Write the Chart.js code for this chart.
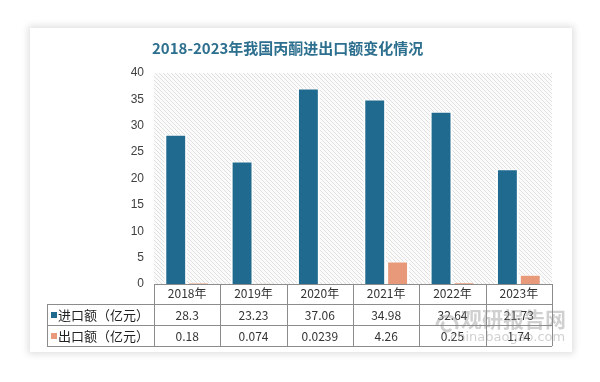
<!DOCTYPE html>
<html><head><meta charset="utf-8">
<script src="https://cdn.jsdelivr.net/npm/chart.js@4"></script>
<style>
html,body{margin:0;padding:0;background:#fff;width:600px;height:382px;overflow:hidden;}
#card{position:absolute;left:30px;top:28px;width:542px;height:324px;background:#fff;box-shadow:0 0 7px 2px rgba(0,0,0,0.13);}
canvas{display:block;}
</style></head>
<body>
<div id="card"><canvas id="c" width="542" height="324"></canvas></div>
<script>
const title = '2018-2023年我国丙酮进出口额变化情况';
const categories = ['2018年','2019年','2020年','2021年','2022年','2023年'];
const seriesNames = ['进口额（亿元）','出口额（亿元）'];
const importValues = [28.3, 23.23, 37.06, 34.98, 32.64, 21.73];
const exportValues = [0.18, 0.074, 0.0239, 4.26, 0.25, 1.74];
const importLabels = ['28.3','23.23','37.06','34.98','32.64','21.73'];
const exportLabels = ['0.18','0.074','0.0239','4.26','0.25','1.74'];
const colors = ['#1f6a8e','#e8997a'];

// hatch pattern
const pc = document.createElement('canvas');
pc.width = 4; pc.height = 4;
const pctx = pc.getContext('2d');
pctx.fillStyle = '#fbfbfb'; pctx.fillRect(0,0,4,4);
pctx.strokeStyle = '#e0e0e0'; pctx.lineWidth = 1;
pctx.beginPath();
pctx.moveTo(-1,-1); pctx.lineTo(5,5);
pctx.moveTo(-1,3); pctx.lineTo(1,5);
pctx.moveTo(3,-1); pctx.lineTo(5,1);
pctx.stroke();

const ctx0 = document.getElementById('c').getContext('2d');
const pattern = ctx0.createPattern(pc,'repeat');

const tablePlugin = {
  id:'tablePlugin',
  beforeDatasetsDraw(chart){
    const {ctx, chartArea:a} = chart;
    ctx.save();
    ctx.fillStyle = pattern;
    ctx.fillRect(a.left, a.top, a.right-a.left, a.bottom-a.top);
    ctx.restore();
  },
  afterDraw(chart){
    const {ctx, chartArea:a} = chart;
    const xs = chart.scales.x;
    const n = categories.length;
    const w = (a.right - a.left)/n;
    const yTop = a.bottom, y1 = a.bottom+20, y2 = a.bottom+41, y3 = a.bottom+62;
    const tl = 17;
    ctx.save();
    // title
    ctx.fillStyle = '#2d6f8e';
    ctx.font = 'bold 15px "Noto Sans CJK SC"';
    ctx.textBaseline = 'middle';
    ctx.textAlign = 'left';
    ctx.fillText(title, 122, 20);
    // lines
    ctx.strokeStyle = '#8c8c8c';
    ctx.lineWidth = 1;
    ctx.beginPath();
    ctx.moveTo(a.left, yTop+0.5); ctx.lineTo(a.right, yTop+0.5);
    ctx.moveTo(tl, y1+0.5); ctx.lineTo(a.right, y1+0.5);
    ctx.moveTo(tl, y2+0.5); ctx.lineTo(a.right, y2+0.5);
    ctx.moveTo(tl, y3+0.5); ctx.lineTo(a.right, y3+0.5);
    ctx.moveTo(tl+0.5, y1); ctx.lineTo(tl+0.5, y3);
    for(let i=0;i<=n;i++){
      const x = Math.round(a.left + i*w)+0.5;
      ctx.moveTo(x, yTop); ctx.lineTo(x, y3);
    }
    ctx.stroke();
    // legend cells
    ctx.font = '13px "Noto Sans CJK SC"';
    ctx.textAlign = 'left';
    const rows = [[y1,y2],[y2,y3]];
    for(let r=0;r<2;r++){
      const cy = (rows[r][0]+rows[r][1])/2 + 0.5;
      ctx.fillStyle = colors[r];
      ctx.fillRect(tl+4, cy-3, 6, 6);
      ctx.fillStyle = '#222';
      ctx.fillText(seriesNames[r], tl+11, cy);
    }
    // values
    ctx.font = '12px "Noto Sans CJK SC"';
    ctx.textAlign = 'center';
    ctx.fillStyle = '#333';
    for(let i=0;i<n;i++){
      const cx = xs.getPixelForValue(i);
      ctx.fillText(importLabels[i], cx, (y1+y2)/2+1);
      ctx.fillText(exportLabels[i], cx, (y2+y3)/2+1);
    }
    // watermark
    ctx.globalAlpha = 0.4;
    ctx.fillStyle = '#8a8a8a';
    ctx.font = 'bold 21px "Noto Sans CJK SC"';
    ctx.textAlign = 'left';
    ctx.fillText('观研报告网', 431, y1+15);
    ctx.font = '13px "DejaVu Sans"';
    ctx.fillText('chinabaogao.com', 420, y2+13);
    ctx.lineWidth = 3;
    ctx.strokeStyle = '#8a8a8a';
    ctx.beginPath();
    ctx.arc(417, y1+22, 10, Math.PI*1.0, Math.PI*2.1);
    ctx.stroke();
    ctx.beginPath();
    ctx.arc(417, y1+22, 5, Math.PI*0.2, Math.PI*1.3);
    ctx.stroke();
    ctx.restore();
  }
};

new Chart(ctx0, {
  type:'bar',
  data:{
    labels: categories,
    datasets:[
      {label: seriesNames[0], data: importValues, backgroundColor: colors[0], borderColor:'#ffffff', borderWidth:{left:2,right:2,top:1,bottom:0}, borderSkipped:'bottom', categoryPercentage:0.69, barPercentage:1.0},
      {label: seriesNames[1], data: exportValues, backgroundColor: colors[1], borderColor:'#ffffff', borderWidth:{left:2,right:2,top:1,bottom:0}, borderSkipped:'bottom', categoryPercentage:0.69, barPercentage:1.0}
    ]
  },
  options:{
    responsive:false,
    animation:false,
    layout:{padding:{left:0,right:20,top:45,bottom:6}},
    plugins:{legend:{display:false}, title:{display:false}, tooltip:{enabled:false}},
    scales:{
      x:{
        grid:{display:false, drawTicks:false},
        border:{display:false},
        ticks:{color:'#333', font:{size:12, family:'"Noto Sans CJK SC"'}, padding:2, maxRotation:0},
        afterFit(s){ s.height = 62; }
      },
      y:{
        min:0, max:40,
        ticks:{stepSize:5, color:'#404040', font:{size:12, family:'"Liberation Sans"'}, padding:10},
        grid:{display:false, drawTicks:false},
        border:{display:false},
        afterFit(s){ s.width = 124; }
      }
    }
  },
  plugins:[tablePlugin]
});
</script>
</body></html>
